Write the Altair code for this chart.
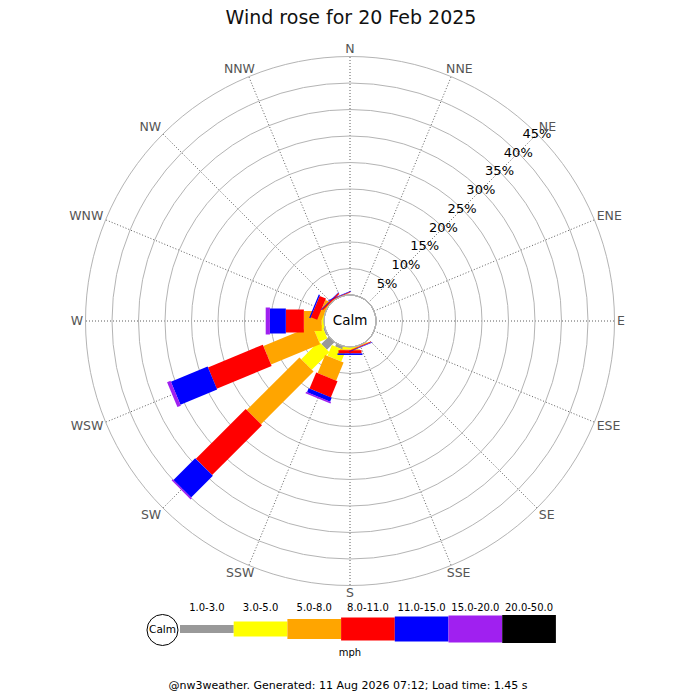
import math
import altair as alt
import pandas as pd

# ---------------- data ----------------
directions = ["N", "NNE", "NE", "ENE", "E", "ESE", "SE", "SSE",
              "S", "SSW", "SW", "WSW", "W", "WNW", "NW", "NNW"]
speed_bins = ["1.0-3.0", "3.0-5.0", "5.0-8.0", "8.0-11.0",
              "11.0-15.0", "15.0-20.0", "20.0-50.0"]
bin_colors = ["#999999", "#ffff00", "#ffa500", "#ff0000",
              "#0000ff", "#a020f0", "#000000"]
bin_widths = [8, 15, 20, 23, 25, 27, 28]

#            N  NNE NE ENE E ESE SE  SSE   S     SSW  SW     WSW   W     WNW   NW    NNW
pct_1_3   = [0, 0, 0, 0, 0, 0, 0, 0.00, 0.00, 0.6, 2.00,  0.3,  0.00, 0.00, 0.00, 0.00]
pct_3_5   = [0, 0, 0, 0, 0, 0, 0, 0.10, 0.45, 2.2, 4.70,  1.7,  0.43, 0.10, 0.05, 0.00]
pct_5_8   = [0, 0, 0, 0, 0, 0, 0, 0.10, 0.15, 3.7, 14.05, 10.0, 3.37, 0.80, 0.10, 0.05]
pct_8_11  = [0, 0, 0, 0, 0, 0, 0, 0.15, 0.60, 3.3, 13.30, 11.2, 3.40, 1.30, 0.25, 0.15]
pct_11_15 = [0, 0, 0, 0, 0, 0, 0, 0.10, 0.30, 0.8, 5.80,  7.5,  3.00, 0.25, 0.10, 0.10]
pct_15_20 = [0, 0, 0, 0, 0, 0, 0, 0.00, 0.00, 0.3, 0.30,  0.7,  0.80, 0.00, 0.00, 0.00]
pct_20_50 = [0, 0, 0, 0, 0, 0, 0, 0.00, 0.00, 0.0, 0.00,  0.0,  0.00, 0.00, 0.00, 0.00]
series = [pct_1_3, pct_3_5, pct_5_8, pct_8_11, pct_11_15, pct_15_20, pct_20_50]

ring_pcts = [5, 10, 15, 20, 25, 30, 35, 40, 45]
ring_labels = ["5%", "10%", "15%", "20%", "25%", "30%", "35%", "40%", "45%"]

title_text = "Wind rose for 20 Feb 2025"
footer_text = "@nw3weather. Generated: 11 Aug 2026 07:12; Load time: 1.45 s"
unit_text = "mph"
calm_text = "Calm"

# ---------------- layout ----------------
W, H = 684, 684
CX, CY = 342, 313          # rose centre in chart pixels
PX = 5.3                   # pixels per percent
HOLE_PX = 26               # calm circle radius
MAXP = 45
hole = HOLE_PX / PX
FONT = "DejaVu Sans"

xs = alt.Scale(domain=[-CX / PX, (W - CX) / PX], nice=False, zero=False)
ys = alt.Scale(domain=[-(H - CY) / PX, CY / PX], nice=False, zero=False)
rs = alt.Scale(type="linear", domain=[0, MAXP], range=[HOLE_PX, HOLE_PX + MAXP * PX], zero=False)

def ang(i):
    return math.radians(22.5 * i)

# spokes
spk = []
for i, d in enumerate(directions):
    a = ang(i)
    spk.append(dict(dir=d, x=hole * math.sin(a), y=hole * math.cos(a),
                    x2=(MAXP + hole) * math.sin(a), y2=(MAXP + hole) * math.cos(a)))
spokes_df = pd.DataFrame(spk)

# bars
rows = []
for i, d in enumerate(directions):
    a = ang(i)
    cum = 0.0
    for j, arr in enumerate(series):
        v = arr[i]
        if v > 0:
            r0 = cum + hole
            r1 = cum + v + hole
            rows.append(dict(dir=d, bin=speed_bins[j], order=j,
                             x=r0 * math.sin(a), y=r0 * math.cos(a),
                             x2=r1 * math.sin(a), y2=r1 * math.cos(a),
                             color=bin_colors[j], width=bin_widths[j]))
        cum += v
bars_df = pd.DataFrame(rows)

# rings
rings_df = pd.DataFrame({"pct": ring_pcts, "label": ring_labels})
a45 = math.radians(45)
rings_df["lx"] = (rings_df["pct"] + hole) * math.sin(a45)
rings_df["ly"] = (rings_df["pct"] + hole) * math.cos(a45)

# direction labels (box placed just outside the outer ring)
cw = {"N": 0.748, "E": 0.632, "S": 0.635, "W": 0.989}
FS_DIR = 12.5
R0 = 267
HH = 5
lab = []
for i, d in enumerate(directions):
    a = ang(i)
    hw = sum(cw[c] for c in d) * FS_DIR / 2
    fx = max(-1, min(1, math.sin(a) * math.sqrt(2)))
    fy = max(-1, min(1, math.cos(a) * math.sqrt(2)))
    lab.append(dict(dir=d,
                    x=(R0 * math.sin(a) + hw * fx) / PX,
                    y=(R0 * math.cos(a) + HH * fy) / PX))
dirlab_df = pd.DataFrame(lab)

X = lambda f: alt.X(f, scale=xs, axis=None)
Y = lambda f: alt.Y(f, scale=ys, axis=None)

spokes = alt.Chart(spokes_df).mark_rule(
    color="#333333", strokeWidth=0.8, strokeDash=[1, 2]
).encode(x=X("x:Q"), y=Y("y:Q"), x2="x2:Q", y2="y2:Q")

rings = alt.Chart(rings_df).mark_arc(
    filled=False, stroke="#b4b4b4", strokeWidth=1, theta=0, theta2=2 * math.pi
).encode(
    x=alt.XDatum(0, scale=xs, axis=None),
    y=alt.YDatum(0, scale=ys, axis=None),
    radius=alt.Radius("pct:Q", scale=rs, stack=None),
)

bars = alt.Chart(bars_df).mark_rule(strokeCap="butt").encode(
    x=X("x:Q"), y=Y("y:Q"), x2="x2:Q", y2="y2:Q",
    color=alt.Color("color:N", scale=None),
    size=alt.Size("width:Q", scale=None),
    order=alt.Order("order:Q"),
)

calm_df = pd.DataFrame({"pct": [0], "label": [calm_text]})
calm_circle = alt.Chart(calm_df).mark_arc(
    fill="white", stroke="#b4b4b4", strokeWidth=1, theta=0, theta2=2 * math.pi
).encode(
    x=alt.XDatum(0, scale=xs, axis=None),
    y=alt.YDatum(0, scale=ys, axis=None),
    radius=alt.Radius("pct:Q", scale=rs, stack=None),
)
calm_label = alt.Chart(calm_df).mark_text(
    font=FONT, fontSize=13.5, color="#000000", align="center", baseline="middle"
).encode(
    x=alt.XDatum(0, scale=xs, axis=None),
    y=alt.YDatum(0, scale=ys, axis=None),
    text="label:N",
)

pct_labels = alt.Chart(rings_df).mark_text(
    font=FONT, fontSize=13, color="#000000", align="center", baseline="middle"
).encode(x=X("lx:Q"), y=Y("ly:Q"), text="label:N")

dir_labels = alt.Chart(dirlab_df).mark_text(
    font=FONT, fontSize=FS_DIR, color="#555555", align="center", baseline="middle"
).encode(x=X("x:Q"), y=Y("y:Q"), text="dir:N")

# ---------------- legend ----------------
SEG_PX = 53.7
LEG_X0 = 172
LEG_Y = 621
ls = alt.Scale(domain=[-LEG_X0 / SEG_PX, (W - LEG_X0) / SEG_PX], nice=False, zero=False)
leg_df = pd.DataFrame({
    "bin": speed_bins,
    "i0": list(range(len(speed_bins))),
    "i1": [k + 1 for k in range(len(speed_bins))],
    "mid": [k + 0.5 for k in range(len(speed_bins))],
    "color": bin_colors,
    "width": bin_widths,
})
leg_bars = alt.Chart(leg_df).mark_rule(strokeCap="butt").encode(
    x=alt.X("i0:Q", scale=ls, axis=None), x2="i1:Q",
    y=alt.value(LEG_Y),
    color=alt.Color("color:N", scale=None),
    size=alt.Size("width:Q", scale=None),
)
leg_text = alt.Chart(leg_df).mark_text(
    font=FONT, fontSize=10, color="#000000", align="center", baseline="alphabetic"
).encode(x=alt.X("mid:Q", scale=ls, axis=None), y=alt.value(602.5), text="bin:N")

leg_calm_df = pd.DataFrame({"label": [calm_text]})
leg_calm_circle = alt.Chart(leg_calm_df).mark_point(
    shape="circle", size=math.pi * 17.5 ** 2, filled=True, fill="white",
    stroke="#000000", strokeWidth=1, opacity=1
).encode(x=alt.value(LEG_X0 - 17.5), y=alt.value(LEG_Y + 1))
leg_calm_text = alt.Chart(leg_calm_df).mark_text(
    font=FONT, fontSize=10.5, color="#000000", align="center", baseline="middle"
).encode(x=alt.value(LEG_X0 - 17.5), y=alt.value(LEG_Y + 1), text="label:N")

text_df = pd.DataFrame({"title": [title_text], "footer": [footer_text], "unit": [unit_text]})
title = alt.Chart(text_df).mark_text(
    font=FONT, fontSize=19, color="#111111", align="center", baseline="alphabetic"
).encode(x=alt.value(343), y=alt.value(16), text="title:N")
unit = alt.Chart(text_df).mark_text(
    font=FONT, fontSize=10, color="#000000", align="center", baseline="alphabetic"
).encode(x=alt.value(CX), y=alt.value(648), text="unit:N")
footer = alt.Chart(text_df).mark_text(
    font=FONT, fontSize=11, color="#000000", align="center", baseline="alphabetic"
).encode(x=alt.value(340), y=alt.value(681), text="footer:N")

chart = alt.layer(
    spokes, rings, bars, calm_circle, calm_label, pct_labels, dir_labels,
    leg_bars, leg_text, leg_calm_circle, leg_calm_text, title, unit, footer
).resolve_scale(x="independent", y="independent").properties(
    width=W, height=H, autosize=alt.AutoSizeParams(type="none"), padding=0,
    background="white"
).configure_view(strokeWidth=0)

chart.save("out.html", embed_options={"renderer": "svg", "actions": False})
